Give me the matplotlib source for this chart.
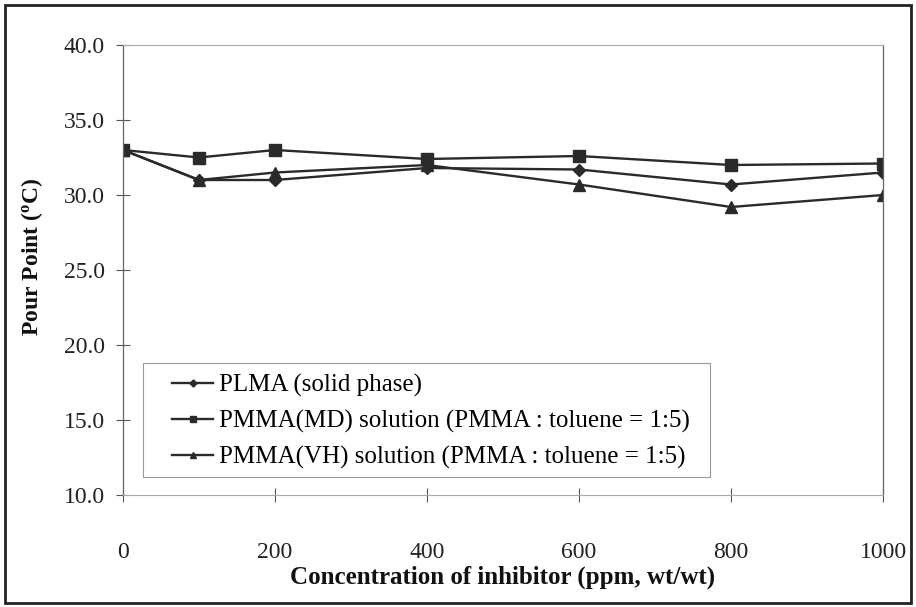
import matplotlib
matplotlib.use("Agg")
import matplotlib.pyplot as plt
from matplotlib.patches import Rectangle

# concentration of inhibitor (ppm) and measured pour points (deg C)
conc = [0, 100, 200, 400, 600, 800, 1000]
plma = [33.0, 31.0, 31.0, 31.8, 31.7, 30.7, 31.5]
pmma_md = [33.0, 32.5, 33.0, 32.4, 32.6, 32.0, 32.1]
pmma_vh = [33.0, 31.0, 31.5, 32.0, 30.7, 29.2, 30.0]

labels = ["PLMA (solid phase)",
          "PMMA(MD) solution (PMMA : toluene = 1:5)",
          "PMMA(VH) solution (PMMA : toluene = 1:5)"]

plt.rcParams["font.family"] = ["Liberation Serif", "DejaVu Serif"]
plt.rcParams["mathtext.fontset"] = "custom"
plt.rcParams["mathtext.rm"] = "Liberation Serif:bold"
plt.rcParams["mathtext.bf"] = "Liberation Serif:bold"

fig = plt.figure(figsize=(9.16, 6.07), dpi=100)
ax = fig.add_axes([123 / 916, 1 - 495 / 607, 760 / 916, 450 / 607])

line_kw = dict(color="#2a2a2a", linewidth=1.7, markersize=8)
ax.plot(conc, plma, marker="D", markersize=6, color="#2a2a2a", linewidth=1.7, label=labels[0])
ax.plot(conc, pmma_md, marker="s", label=labels[1], **line_kw)
ax.plot(conc, pmma_vh, marker="^", label=labels[2], **line_kw)

ax.set_xlim(0, 1000)
ax.set_ylim(10, 40)
ax.set_xticks(range(0, 1001, 200))
ax.set_yticks(range(10, 41, 5))
ax.set_yticklabels([f"{v:.1f}" for v in range(10, 41, 5)])

ax.tick_params(axis="both", direction="inout", length=10, width=0.8,
               colors="#555555", labelcolor="#222222", labelsize=17)
ax.tick_params(axis="x", pad=29)
ax.tick_params(axis="y", pad=8)

for side in ["top", "bottom"]:
    ax.spines[side].set_color("#aaaaaa")
    ax.spines[side].set_linewidth(0.8)
for side in ["left", "right"]:
    ax.spines[side].set_color("#666666")
    ax.spines[side].set_linewidth(0.9)

ax.set_xlabel("Concentration of inhibitor (ppm, wt/wt)", fontsize=18,
              fontweight="bold", labelpad=2, color="#111111")
ax.set_ylabel(r"Pour Point ($\mathrm{^o}$C)", fontsize=17,
              fontweight="bold", color="#111111")
ax.yaxis.set_label_coords(-0.103, 0.53)

# legend box, with a wider left margin than the entries need
ax.add_patch(Rectangle((0.026, 0.04), 0.746, 0.253, transform=ax.transAxes,
                       facecolor="white", edgecolor="#999999",
                       linewidth=0.8, zorder=4))
leg = ax.legend(loc="upper left", bbox_to_anchor=(0.0645, 0.269), fontsize=18,
                frameon=False, handlelength=1.64, handletextpad=0.24,
                borderpad=0, borderaxespad=0, labelspacing=0.52,
                markerscale=0.6)
leg.set_zorder(5)

# outer frame around the whole chart
fig.patches.append(Rectangle((5 / 916, 4 / 607), 906 / 916, 598 / 607,
                             transform=fig.transFigure, fill=False,
                             edgecolor="#222222", linewidth=2))

fig.savefig("out.png", dpi=100)
